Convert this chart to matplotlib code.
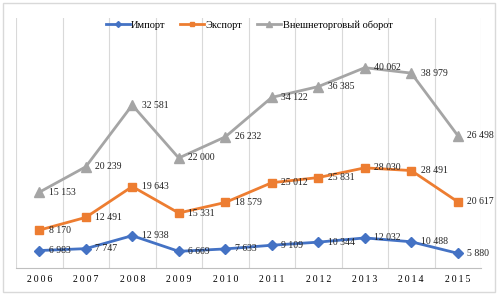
import matplotlib.pyplot as plt
from matplotlib.patches import Rectangle
import numpy as np

plt.rcParams['font.family'] = ['Liberation Serif', 'DejaVu Serif']

years = ["2006", "2007", "2008", "2009", "2010", "2011", "2012", "2013", "2014", "2015"]
imp = [6983, 7747, 12938, 6669, 7633, 9109, 10344, 12032, 10488, 5880]
exp = [8170, 12491, 19643, 15331, 18579, 25012, 25831, 28030, 28491, 20617]
total = [15153, 20239, 32581, 22000, 26232, 34122, 36385, 40062, 38979, 26498]
names = ["Импорт", "Экспорт", "Внешнеторговый оборот"]

colors = ["#4472C4", "#ED7D31", "#A5A5A5"]
markers = ["D", "s", "^"]
msizes = [5, 6, 7]

# Excel "stacked line" chart: each series drawn on top of the previous ones
series = [imp, exp, total]
stacked = np.cumsum(np.array(series, dtype=float), axis=0)

fig = plt.figure(figsize=(4.98, 2.96), dpi=100)
fig.patches.append(Rectangle((3 / 498, 4 / 296), 492 / 498, 289 / 296,
                             transform=fig.transFigure, fill=False,
                             edgecolor="#D9D9D9", lw=1))
ax = fig.add_axes([16 / 498, 1 - 268 / 296, 465 / 498, 250 / 296])

x = np.arange(len(years))
for i in range(3):
    ax.plot(x, stacked[i], color=colors[i], marker=markers[i], ms=msizes[i],
            lw=2, label=names[i], zorder=3)
    for xi, yi, v in zip(x, stacked[i], series[i]):
        s = f"{v:,}".replace(",", " ")
        ax.annotate(s, (xi, yi), xytext=(7, 0), textcoords="offset points",
                    ha="left", va="center", fontsize=7, color="#222222", zorder=4)

ax.set_xlim(-0.5, len(years) - 0.5)
ax.set_ylim(0, 100000)
for b in np.arange(-0.5, len(years), 1.0):
    ax.axvline(b, color="#D9D9D9", lw=0.8, zorder=1)
ax.set_yticks([])
ax.set_xticks(x)
ax.set_xticklabels(["\u2009".join(y) for y in years], fontsize=7)
ax.tick_params(axis="x", length=0, pad=5)
for side in ["top", "right", "left"]:
    ax.spines[side].set_visible(False)
ax.spines["bottom"].set_color("#BFBFBF")

fig.legend(loc="upper center", bbox_to_anchor=(0.5, 1 - 11 / 296), ncol=3,
           frameon=False, fontsize=7.5, handlelength=2.3, columnspacing=1.4,
           handletextpad=0.15, markerscale=0.6)

fig.savefig("out.png", dpi=100)
